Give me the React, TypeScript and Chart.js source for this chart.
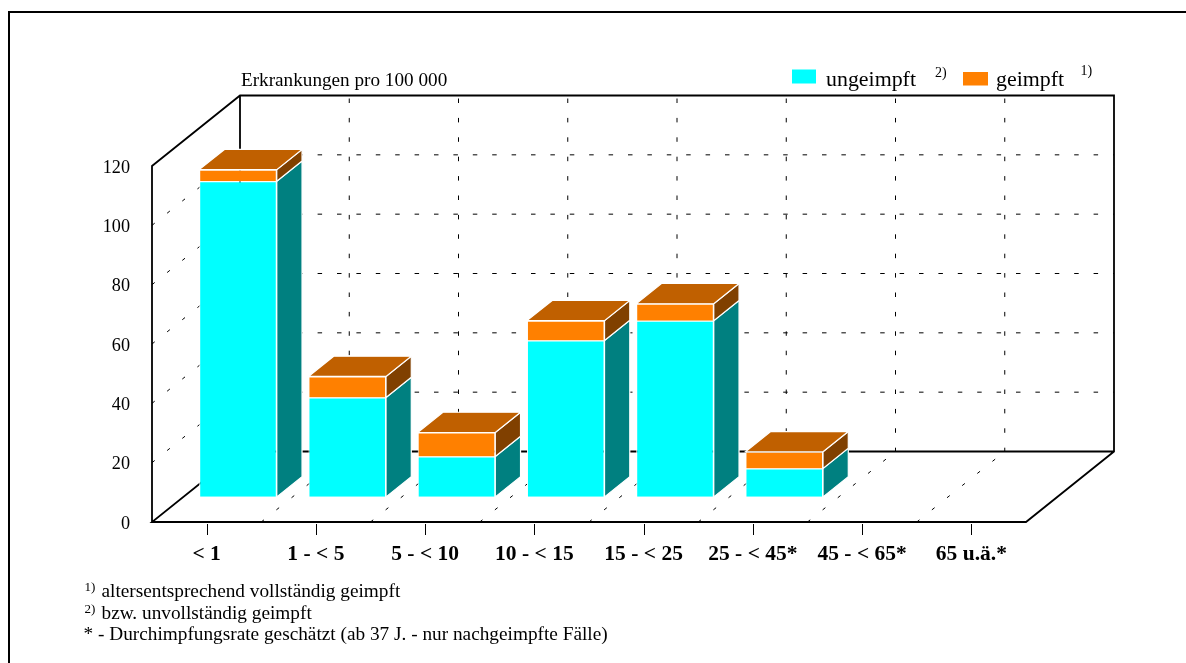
import React, { useEffect, useRef } from "react";
import { Chart, registerables } from "chart.js";

Chart.register(...registerables);

const categories = ["< 1", "1 - < 5", "5 - < 10", "10 - < 15", "15 - < 25", "25 - < 45*", "45 - < 65*", "65 u.ä.*"];
const ungeimpft = [106.4, 33.5, 13.6, 52.7, 59.4, 9.6, 0, 0];
const geimpft = [3.9, 7.1, 8.1, 6.7, 5.7, 5.6, 0, 0];
const yTicks = [0, 20, 40, 60, 80, 100, 120];
const axisTitle = "Erkrankungen pro 100 000";
const legendNames = ["ungeimpft", "geimpft"];
const legendMarks = ["2)", "1)"];
const notes = [
  { mark: "1)", text: "altersentsprechend vollständig geimpft" },
  { mark: "2)", text: "bzw. unvollständig geimpft" },
  { mark: "", text: "* - Durchimpfungsrate geschätzt (ab 37 J. - nur nachgeimpfte Fälle)" },
];

const SERIF = '"Liberation Serif", "Times New Roman", serif';
const DEPTH_X = 88;
const DEPTH_Y = -70.5;
const BAR_SHIFT = 0.3565; // share of the depth in front of a bar
const BAR_DEPTH = 0.287; // share of the depth a bar takes up
const DASH = [4.5, 14.9];
const DASH_DIAGONAL = [3.5, 15.9];

const colours = {
  cyan: "#00ffff",
  cyanSide: "#008080",
  orange: "#ff8000",
  orangeTop: "#c06000",
  orangeSide: "#804000",
};

function seg(ctx: CanvasRenderingContext2D, x1: number, y1: number, x2: number, y2: number) {
  ctx.beginPath();
  ctx.moveTo(x1, y1);
  ctx.lineTo(x2, y2);
  ctx.stroke();
}

function face(ctx: CanvasRenderingContext2D, pts: number[][], fill: string) {
  ctx.beginPath();
  pts.forEach((p, i) => (i ? ctx.lineTo(p[0], p[1]) : ctx.moveTo(p[0], p[1])));
  ctx.closePath();
  ctx.fillStyle = fill;
  ctx.fill();
  ctx.strokeStyle = "#ffffff";
  ctx.lineWidth = 1.2;
  ctx.stroke();
}

const wallsPlugin = {
  id: "walls",
  beforeDatasetsDraw(chart: any) {
    const { ctx, chartArea: a, scales } = chart;
    const y = scales.y;
    const L = a.left, R = a.right, B = a.bottom, T = a.top;
    const band = (R - L) / categories.length;
    ctx.save();

    // outer frame: open at the right and at the bottom
    ctx.strokeStyle = "#000";
    ctx.lineWidth = 2;
    ctx.beginPath();
    ctx.moveTo(9, 663);
    ctx.lineTo(9, 12);
    ctx.lineTo(1186, 12);
    ctx.stroke();

    // dashed grid
    ctx.lineWidth = 1;
    ctx.strokeStyle = "#000";
    yTicks.forEach((t) => {
      const py = y.getPixelForValue(t);
      if (t > 0 && t < 120) {
        ctx.setLineDash(DASH);
        seg(ctx, L + DEPTH_X, py + DEPTH_Y, R + DEPTH_X, py + DEPTH_Y);
        ctx.setLineDash(DASH_DIAGONAL);
        seg(ctx, L, py, L + DEPTH_X, py + DEPTH_Y);
      }
    });
    for (let i = 1; i < categories.length; i++) {
      const px = L + band * i;
      ctx.setLineDash(DASH);
      ctx.lineDashOffset = -3;
      seg(ctx, px + DEPTH_X, T + DEPTH_Y, px + DEPTH_X, B + DEPTH_Y);
      ctx.lineDashOffset = 0;
      ctx.setLineDash(DASH_DIAGONAL);
      seg(ctx, px, B, px + DEPTH_X, B + DEPTH_Y);
    }
    ctx.setLineDash([]);
    ctx.lineDashOffset = 0;

    // solid box edges
    ctx.lineWidth = 1.8;
    ctx.beginPath();
    ctx.moveTo(L, B);
    ctx.lineTo(L, T);
    ctx.lineTo(L + DEPTH_X, T + DEPTH_Y);
    ctx.lineTo(R + DEPTH_X, T + DEPTH_Y);
    ctx.lineTo(R + DEPTH_X, B + DEPTH_Y);
    ctx.lineTo(R, B);
    ctx.lineTo(L, B);
    ctx.lineTo(L + DEPTH_X, B + DEPTH_Y);
    ctx.lineTo(R + DEPTH_X, B + DEPTH_Y);
    ctx.moveTo(L + DEPTH_X, T + DEPTH_Y);
    ctx.lineTo(L + DEPTH_X, B + DEPTH_Y);
    ctx.stroke();

    // 3D faces of the bars, taken from the bar elements
    const dx = DEPTH_X * BAR_DEPTH;
    const dy = DEPTH_Y * BAR_DEPTH;
    const sx = DEPTH_X * BAR_SHIFT;
    const sy = DEPTH_Y * BAR_SHIFT;
    const metas = chart.getSortedVisibleDatasetMetas();
    metas.forEach((meta: any, di: number) => {
      meta.data.forEach((bar: any, i: number) => {
        const v = chart.data.datasets[di].data[i];
        if (!v) return;
        const { x, y: top, base, width } = bar.getProps(["x", "y", "base", "width"], true);
        const r = x + width / 2 + sx;
        const l = x - width / 2 + sx;
        const t = top + sy;
        const b = base + sy;
        face(ctx, [[r, t], [r + dx, t + dy], [r + dx, b + dy], [r, b]], di === 0 ? colours.cyanSide : colours.orangeSide);
        if (di === metas.length - 1) {
          face(ctx, [[l, t], [l + dx, t + dy], [r + dx, t + dy], [r, t]], colours.orangeTop);
        }
      });
    });

    // bars are then drawn by the library, moved back into the box
    ctx.restore();
    ctx.save();
    ctx.translate(sx, sy);
  },
  afterDatasetsDraw(chart: any) {
    const { ctx, scales } = chart;
    ctx.restore();
    ctx.save();

    // x tick marks
    ctx.strokeStyle = "#000";
    ctx.lineWidth = 1;
    categories.forEach((_, i) => {
      const px = Math.round(scales.x.getPixelForValue(i)) + 0.5;
      seg(ctx, px, 524, px, 535);
    });

    ctx.fillStyle = "#000";
    ctx.textBaseline = "alphabetic";
    ctx.textAlign = "left";

    // axis title
    ctx.font = `19.2px ${SERIF}`;
    ctx.fillText(axisTitle, 241, 86);

    // legend
    ctx.fillStyle = colours.cyan;
    ctx.fillRect(792, 69.5, 24, 14);
    ctx.fillStyle = colours.orange;
    ctx.fillRect(963, 72, 25, 13.5);
    ctx.fillStyle = "#000";
    ctx.font = `21.9px ${SERIF}`;
    ctx.fillText(legendNames[0], 826, 86);
    ctx.fillText(legendNames[1], 996, 86);
    ctx.font = `14px ${SERIF}`;
    ctx.fillText(legendMarks[0], 935, 77);
    ctx.fillText(legendMarks[1], 1080.5, 75);

    // footnotes
    const noteY = [597, 619, 640];
    const markY = [591, 612.5, 0];
    notes.forEach((n, i) => {
      if (n.mark) {
        ctx.font = `13px ${SERIF}`;
        ctx.fillText(n.mark, 84.5, markY[i]);
        ctx.font = `19.3px ${SERIF}`;
        ctx.fillText(n.text, 101.5, noteY[i]);
      } else {
        ctx.font = `19.3px ${SERIF}`;
        ctx.fillText(n.text, 83.5, noteY[i]);
      }
    });
    ctx.restore();
  },
};

export default function App() {
  const ref = useRef<HTMLCanvasElement | null>(null);
  useEffect(() => {
    document.body.style.margin = "0";
    document.body.style.background = "#fff";
    const chart = new Chart(ref.current as HTMLCanvasElement, {
      type: "bar",
      data: {
        labels: categories,
        datasets: [
          { label: legendNames[0], data: ungeimpft, backgroundColor: colours.cyan, borderColor: "#fff", borderWidth: 1, clip: false },
          { label: legendNames[1], data: geimpft, backgroundColor: colours.orange, borderColor: "#fff", borderWidth: 1, clip: false },
        ],
      } as any,
      options: {
        animation: false,
        responsive: false,
        layout: { padding: { left: 0, top: 166, right: 160, bottom: 0 } },
        plugins: { legend: { display: false }, title: { display: false }, tooltip: { enabled: false } },
        datasets: { bar: { categoryPercentage: 1, barPercentage: 0.71 } },
        scales: {
          x: {
            stacked: true,
            grid: { display: false },
            border: { display: false },
            ticks: { color: "#000", font: { family: SERIF, size: 21.5, weight: "bold" }, padding: 12, maxRotation: 0, autoSkip: false },
            afterFit: (s: any) => { s.height = 141; },
          },
          y: {
            stacked: true,
            min: 0,
            max: 120,
            grid: { display: false },
            border: { display: false },
            ticks: { color: "#000", font: { family: SERIF, size: 18.2 }, stepSize: 20, padding: 14, labelOffset: 2 },
            afterFit: (s: any) => { s.width = 152; },
          },
        },
      } as any,
      plugins: [wallsPlugin],
    });
    return () => chart.destroy();
  }, []);
  return <canvas ref={ref} width={1186} height={663} style={{ display: "block" }} />;
}
